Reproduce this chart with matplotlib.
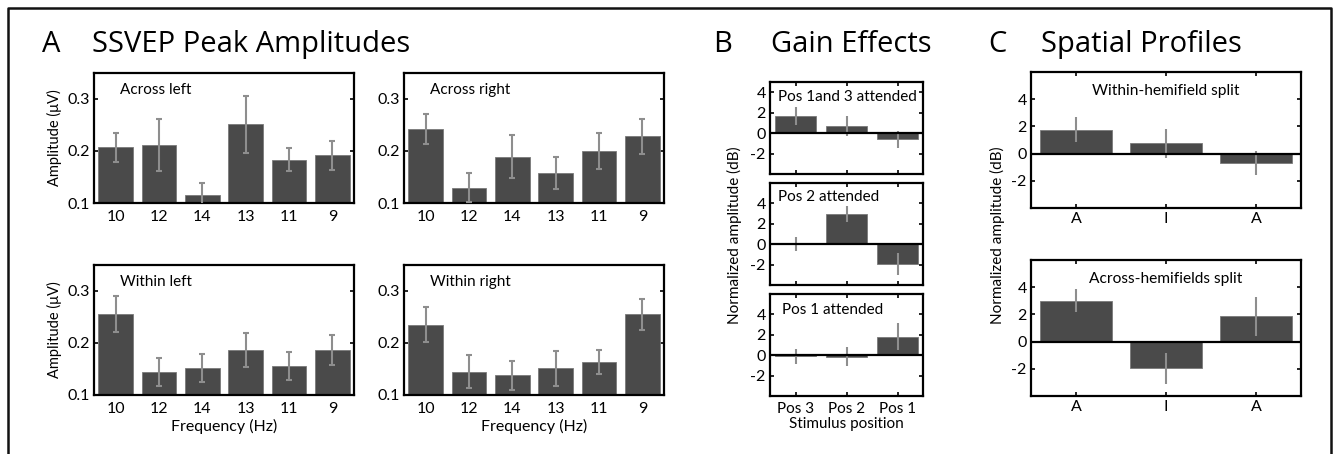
import matplotlib
matplotlib.use("Agg")
import matplotlib.pyplot as plt
from matplotlib.lines import Line2D
import numpy as np

plt.rcParams['font.family'] = ['Lato', 'DejaVu Sans']

# ---------------- data ----------------
freq_labels = ['10', '12', '14', '13', '11', '9']

across_left = [0.207, 0.212, 0.115, 0.251, 0.183, 0.192]
across_left_err = [0.028, 0.050, 0.023, 0.055, 0.022, 0.028]
across_right = [0.242, 0.129, 0.189, 0.158, 0.200, 0.228]
across_right_err = [0.029, 0.028, 0.041, 0.031, 0.034, 0.034]
within_left = [0.256, 0.145, 0.152, 0.187, 0.155, 0.186]
within_left_err = [0.034, 0.027, 0.027, 0.033, 0.027, 0.029]
within_right = [0.235, 0.145, 0.138, 0.151, 0.164, 0.255]
within_right_err = [0.034, 0.031, 0.028, 0.033, 0.023, 0.030]

pos_labels = ['Pos 3', 'Pos 2', 'Pos 1']
gain_13 = [1.68, 0.72, -0.62]
gain_13_err = [0.88, 0.96, 0.80]
gain_2 = [-0.02, 2.95, -1.94]
gain_2_err = [0.68, 0.80, 1.05]
gain_1 = [-0.10, -0.15, 1.83]
gain_1_err = [0.75, 0.95, 1.33]

profile_labels = ['A', 'I', 'A']
within_split = [1.74, 0.75, -0.67]
within_split_err = [0.92, 1.05, 0.88]
across_split = [3.01, -1.97, 1.85]
across_split_err = [0.87, 1.12, 1.42]

# ---------------- style ----------------
BAR = '#4a4a4a'
BAR_EDGE = '#7a7a7a'
ERR = '#8e8e8e'
W, H = 1335, 454

fig = plt.figure(figsize=(W / 100, H / 100), dpi=100)


def add_ax(x0, y0, x1, y1):
    return fig.add_axes([x0 / W, 1 - y1 / H, (x1 - x0) / W, (y1 - y0) / H])


def style(ax, fs=10.5):
    for s in ax.spines.values():
        s.set_linewidth(1.6)
        s.set_color('black')
    ax.tick_params(direction='in', length=3, width=1.2, top=True, right=True,
                   labelsize=fs, pad=3, color='black')


# ---------------- panel A ----------------
def panel_a(ax, vals, errs, label, show_ylabel, show_xlabel):
    x = np.arange(1, len(vals) + 1)
    ax.bar(x, vals, width=0.8, color=BAR, edgecolor=BAR_EDGE, linewidth=0.6, zorder=2)
    ax.errorbar(x, vals, yerr=errs, fmt='none', ecolor=ERR, elinewidth=1.5,
                capsize=2, capthick=1.5, zorder=3)
    ax.set_xlim(0.5, len(vals) + 0.5)
    ax.set_ylim(0.1, 0.35)
    ax.set_yticks([0.1, 0.2, 0.3])
    ax.set_yticklabels(['0.1', '0.2', '0.3'])
    ax.set_xticks(x)
    ax.set_xticklabels(freq_labels)
    style(ax, 11.5)
    ax.tick_params(axis='x', length=0, pad=5)
    ax.text(0.1, 0.87, label, transform=ax.transAxes, fontsize=11,
            ha='left', va='center')
    if show_ylabel:
        ax.set_ylabel('Amplitude (μV)', fontsize=10.5, labelpad=4)
    if show_xlabel:
        ax.set_xlabel('Frequency (Hz)', fontsize=11.5, labelpad=2)


ax_al = add_ax(94, 73, 354, 203)
panel_a(ax_al, across_left, across_left_err, 'Across left', True, False)
ax_ar = add_ax(404, 73, 664, 203)
panel_a(ax_ar, across_right, across_right_err, 'Across right', False, False)
ax_wl = add_ax(94, 265, 354, 395)
panel_a(ax_wl, within_left, within_left_err, 'Within left', True, True)
ax_wr = add_ax(404, 265, 664, 395)
panel_a(ax_wr, within_right, within_right_err, 'Within right', False, True)


# ---------------- panel B / C ----------------
def panel_db(ax, vals, errs, labels, ylim, fs=10.5):
    x = np.arange(1, len(vals) + 1)
    ax.bar(x, vals, width=0.8, color=BAR, edgecolor=BAR_EDGE, linewidth=0.6, zorder=2)
    ax.errorbar(x, vals, yerr=errs, fmt='none', ecolor=ERR, elinewidth=1.5,
                capsize=0, zorder=3)
    ax.axhline(0, color='black', lw=1.6, zorder=4)
    ax.set_xlim(0.5, len(vals) + 0.5)
    ax.set_ylim(*ylim)
    ax.set_yticks([-2, 0, 2, 4])
    ax.set_yticklabels(['-2', '0', '2', '4'])
    ax.set_xticks(x)
    style(ax, fs)
    if labels is None:
        ax.set_xticklabels([])
    else:
        ax.set_xticklabels(labels)


ax_b1 = add_ax(770, 82, 923, 174)
panel_db(ax_b1, gain_13, gain_13_err, None, (-4, 5), fs=11.5)
ax_b1.text(0.05, 0.84, 'Pos 1and 3 attended', transform=ax_b1.transAxes,
           fontsize=11, ha='left', va='center')
ax_b2 = add_ax(770, 183, 923, 285)
panel_db(ax_b2, gain_2, gain_2_err, None, (-4, 6), fs=11.5)
ax_b2.text(0.05, 0.86, 'Pos 2 attended', transform=ax_b2.transAxes,
           fontsize=11, ha='left', va='center')
ax_b3 = add_ax(770, 294, 923, 396)
panel_db(ax_b3, gain_1, gain_1_err, pos_labels, (-4, 6), fs=11)
ax_b3.tick_params(axis='y', labelsize=11.5)
ax_b3.text(0.08, 0.84, 'Pos 1 attended', transform=ax_b3.transAxes,
           fontsize=11, ha='left', va='center')
ax_b3.set_xlabel('Stimulus position', fontsize=11, labelpad=1)
ax_b3.tick_params(axis='x', pad=4)
fig.text(734 / W, 1 - 235 / H, 'Normalized amplitude (dB)', rotation=90,
         ha='center', va='center', fontsize=11)

ax_c1 = add_ax(1031, 72, 1301, 208)
panel_db(ax_c1, within_split, within_split_err, profile_labels, (-4, 6), fs=11.5)
ax_c1.text(0.5, 0.86, 'Within-hemifield split', transform=ax_c1.transAxes,
           fontsize=11.2, ha='center', va='center')
ax_c2 = add_ax(1031, 260, 1301, 396)
panel_db(ax_c2, across_split, across_split_err, profile_labels, (-4, 6), fs=11.5)
ax_c2.text(0.5, 0.86, 'Across-hemifields split', transform=ax_c2.transAxes,
           fontsize=11.2, ha='center', va='center')
fig.text(997 / W, 1 - 235 / H, 'Normalized amplitude (dB)', rotation=90,
         ha='center', va='center', fontsize=11)

# ---------------- titles ----------------
tfam = ['Open Sans', 'DejaVu Sans']
tfs = 21
fig.text(42 / W, 1 - 52 / H, 'A', fontsize=tfs, ha='left', va='baseline', family=tfam)
fig.text(92 / W, 1 - 52 / H, 'SSVEP Peak Amplitudes', fontsize=tfs, ha='left',
         va='baseline', family=tfam)
fig.text(713 / W, 1 - 52 / H, 'B', fontsize=tfs, ha='left', va='baseline', family=tfam)
fig.text(771 / W, 1 - 52 / H, 'Gain Effects', fontsize=tfs, ha='left', va='baseline',
         family=tfam)
fig.text(988 / W, 1 - 52 / H, 'C', fontsize=tfs, ha='left', va='baseline', family=tfam)
fig.text(1041 / W, 1 - 52 / H, 'Spatial Profiles', fontsize=tfs, ha='left',
         va='baseline', family=tfam)

# ---------------- frame ----------------
frame = Line2D([8 / W, 8 / W, 1331 / W, 1331 / W],
               [-0.01, 1 - 7.5 / H, 1 - 7.5 / H, -0.01],
               transform=fig.transFigure, color='#111111', lw=1.8)
fig.add_artist(frame)

fig.savefig('out.png', dpi=100, facecolor='white')
